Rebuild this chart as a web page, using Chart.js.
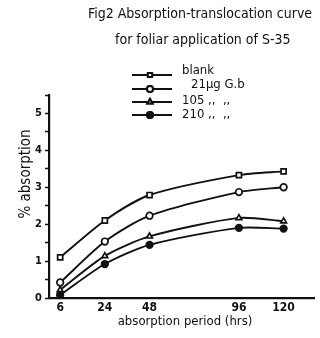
<!DOCTYPE html>
<html>
<head>
<meta charset="utf-8">
<script src="https://cdn.jsdelivr.net/npm/chart.js@4"></script>
<style>
  html, body { margin: 0; padding: 0; background: #fff; }
  #wrap { width: 320px; height: 338px; }
</style>
</head>
<body>
<div id="wrap"><canvas id="canvas1" width="320" height="338"></canvas></div>
<script>
// hours after application (the figure spaces them like categories, 72 left unlabelled)
const hourSlots = [6, 24, 48, 72, 96, 120];
const hours = [6, 24, 48, 96, 120];

// % absorption
const blank = [1.1, 2.1, 2.79, 3.33, 3.43];
const dose21 = [0.42, 1.53, 2.23, 2.87, 3.0];
const dose105 = [0.22, 1.14, 1.67, 2.17, 2.08];
const dose210 = [0.08, 0.92, 1.44, 1.9, 1.88];

const legendLabels = ['blank', '21\u00b5g G.b', '105 ,,  ,,', '210 ,,  ,,'];
const titleLines = ['Fig2 Absorption-translocation curve', 'for foliar application of S-35'];
const yTitle = '% absorption';
const xTitle = 'absorption period (hrs)';

const ink = '#111';
const hand = '"DejaVu Sans Condensed", "DejaVu Sans", sans-serif';

function toXY(vals) {
    return vals.map((v, i) => ({ x: hourSlots.indexOf(hours[i]), y: v }));
}

function series(label, vals, style, filled) {
    return {
        label: label,
        data: toXY(vals),
        borderColor: ink,
        borderWidth: 1.9,
        pointStyle: style,
        pointRadius: style === 'rect' ? 3.6 : 3.3,
        pointBorderWidth: 1.7,
        pointBorderColor: ink,
        pointBackgroundColor: filled ? ink : '#fff',
        tension: 0.25,
        fill: false
    };
}

const datasets = [
    series(legendLabels[0], blank, 'rect', false),
    series(legendLabels[1], dose21, 'circle', false),
    series(legendLabels[2], dose105, 'triangle', false),
    series(legendLabels[3], dose210, 'circle', true)
];

// titles + the hand drawn style key
const keyPlugin = {
    id: 'keyPlugin',
    afterDraw(chart) {
        const c = chart.ctx;
        c.save();
        c.fillStyle = ink;
        c.font = '14px ' + hand;
        c.textBaseline = 'middle';
        c.textAlign = 'left';
        c.fillText(titleLines[0], 88, 14);
        c.fillText(titleLines[1], 115, 40);

        c.font = '13px ' + hand;
        c.textAlign = 'center';
        c.fillText(xTitle, 185, 322);

        c.save();
        c.translate(26, 174);
        c.rotate(-Math.PI / 2);
        c.font = '15px ' + hand;
        c.fillText(yTitle, 0, 0);
        c.restore();

        c.font = '13px ' + hand;
        c.textAlign = 'left';
        const rows = [75, 89, 102, 115];
        const textX = [182, 191, 182, 182];
        const textY = [71, 85, 101, 115];
        chart.data.datasets.forEach((ds, i) => {
            const y = rows[i];
            c.strokeStyle = ink;
            c.lineWidth = 2;
            c.beginPath();
            c.moveTo(132, y);
            c.lineTo(172, y);
            c.stroke();
            Chart.helpers.drawPoint(c, {
                pointStyle: ds.pointStyle,
                radius: 3,
                borderWidth: 1.6,
                rotation: 0
            }, 150, y);
            c.fillStyle = ds.pointBackgroundColor;
            c.fill();
            c.stroke();
            c.fillStyle = ink;
            c.fillText(ds.label, textX[i], textY[i]);
        });
        c.restore();
    }
};

const ctx = document.getElementById('canvas1');
const chart1 = new Chart(ctx, {
    type: 'line',
    data: { datasets: datasets },
    plugins: [keyPlugin],
    options: {
        responsive: false,
        animation: false,
        layout: { padding: { left: 0, right: 6, top: 95, bottom: 0 } },
        plugins: {
            legend: { display: false },
            tooltip: { enabled: false }
        },
        scales: {
            x: {
                type: 'linear',
                min: -0.25,
                max: 5.68,
                afterBuildTicks(axis) {
                    axis.ticks = hours.map(h => ({ value: hourSlots.indexOf(h) }));
                },
                afterFit(axis) { axis.height = 40; },
                grid: { display: true, drawOnChartArea: false, drawTicks: false },
                border: { display: true, color: ink, width: 2.2 },
                ticks: {
                    color: ink,
                    padding: 3,
                    autoSkip: false,
                    maxRotation: 0,
                    font: { family: hand, size: 12, weight: 'bold' },
                    callback: v => String(hourSlots[v])
                }
            },
            y: {
                min: 0,
                max: 5.5,
                afterFit(axis) { axis.width = 49; },
                grid: { display: true, drawOnChartArea: false, drawTicks: true, tickLength: 4, tickColor: ink, tickWidth: 1.5 },
                border: { display: true, color: ink, width: 2.2 },
                ticks: {
                    stepSize: 0.5,
                    color: ink,
                    padding: 3,
                    font: { family: hand, size: 11, weight: 'bold' },
                    callback: v => Number.isInteger(v) ? v : ''
                }
            }
        }
    }
});
</script>
</body>
</html>
